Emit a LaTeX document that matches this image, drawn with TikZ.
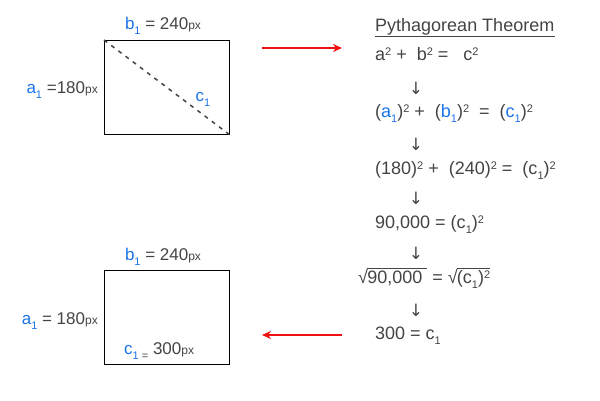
\documentclass[tikz,border=0pt]{standalone}
\usepackage{fontspec}
\setmainfont{Liberation Sans}
\newfontfamily\arrfont{DejaVu Sans}
\usetikzlibrary{arrows.meta}
\definecolor{txt}{HTML}{444444}
\definecolor{blu}{HTML}{1A73E8}
\definecolor{arr}{HTML}{F01010}
\newcommand\bl[1]{\textcolor{blu}{#1}}
\newcommand\sub[1]{\raisebox{-0.3em}{\fontsize{11}{11}\selectfont #1}}
\newcommand\tsq{\raisebox{0.3em}{\fontsize{11}{11}\selectfont 2}}
\newcommand\spx{{\fontsize{12}{12}\selectfont px}}
\newcommand\rad[1]{√\kern-0.8pt\setbox0\hbox{#1}\rlap{\rule[0.82em]{\wd0}{0.7pt}}\box0}
\tikzset{
  lab/.style={text=txt, font=\fontsize{17}{19}\selectfont, inner sep=0pt, text height=12pt, text depth=4pt},
  eq/.style={text=txt, font=\fontsize{18}{20}\selectfont, inner sep=0pt, text height=13pt, text depth=4pt, anchor=west},
  dn/.style={text=txt, font=\fontsize{17}{19}\selectfont, inner sep=0pt, anchor=center},
  boxr/.style={draw=black, line width=0.9pt},
  diag/.style={draw=txt, line width=1.5pt, dash pattern=on 4pt off 5pt},
  redarr/.style={draw=arr, line width=1.6pt, -{Stealth[length=9pt,width=8pt]}},
}
\begin{document}
\begin{tikzpicture}[x=1pt,y=-1pt]
\useasboundingbox (0,0) rectangle (600,400);
% top rectangle
\node[boxr, minimum width=125pt, minimum height=94pt, anchor=north west, inner sep=0pt] (r1) at (104,40) {};
\draw[diag] (r1.north west) -- (r1.south east);
\node[lab, anchor=center] (b1t) at (163,25) {\bl{b\sub{1}} = 240\spx};
\node[lab, anchor=east] (a1t) at (98,89) {\bl{a\sub{1}} =180\spx};
\node[lab, anchor=center] (c1t) at (203,97) {\bl{c\sub{1}}};
% bottom rectangle
\node[boxr, minimum width=125pt, minimum height=94pt, anchor=north west, inner sep=0pt] (r2) at (104,270) {};
\node[lab, anchor=center] (b1b) at (163,256) {\bl{b\sub{1}} = 240\spx};
\node[lab, anchor=east] (a1b) at (98,320) {\bl{a\sub{1}} = 180\spx};
\node[lab, anchor=west] (c1b) at (124,350) {\bl{c\sub{1}}\sub{ =} 300\spx};
% arrows
\coordinate (t1) at (262,48);
\coordinate (t2) at (342,48);
\coordinate (u1) at (342,335);
\coordinate (u2) at (262,335);
\draw[redarr] (t1) -- (t2);
\draw[redarr] (u1) -- (u2);
% right column
\node[eq] (title) at (375,27) {Pythagorean Theorem};
\draw[txt, line width=1.2pt] ([yshift=-0.5pt]title.south west) -- ([yshift=-0.5pt]title.south east);
\node[eq] (e1) at (375,56) {a\tsq{} + \ b\tsq{} = \ \ c\tsq};
\node[dn] (d1) at (416,88) {\arrfont ↓};
\node[eq] (e2) at (375,113) {(\bl{a\sub{1}})\tsq{} + \ (\bl{b\sub{1}})\tsq\ \ = \ (\bl{c\sub{1}})\tsq};
\node[dn] (d2) at (416,144) {\arrfont ↓};
\node[eq] (e3) at (375,170) {(180)\tsq{} + \ (240)\tsq{} = \ (c\sub{1})\tsq};
\node[dn] (d3) at (416,198) {\arrfont ↓};
\node[eq] (e4) at (375,224) {90,000 = (c\sub{1})\tsq};
\node[dn] (d4) at (416,253) {\arrfont ↓};
\node[eq] (e5) at (358,279) {\rad{90,000\ }\ = \rad{(c\sub{1})\tsq}};
\node[dn] (d5) at (416,310) {\arrfont ↓};
\node[eq] (e6) at (375,335) {300 = c\sub{1}};
\end{tikzpicture}
\end{document}
